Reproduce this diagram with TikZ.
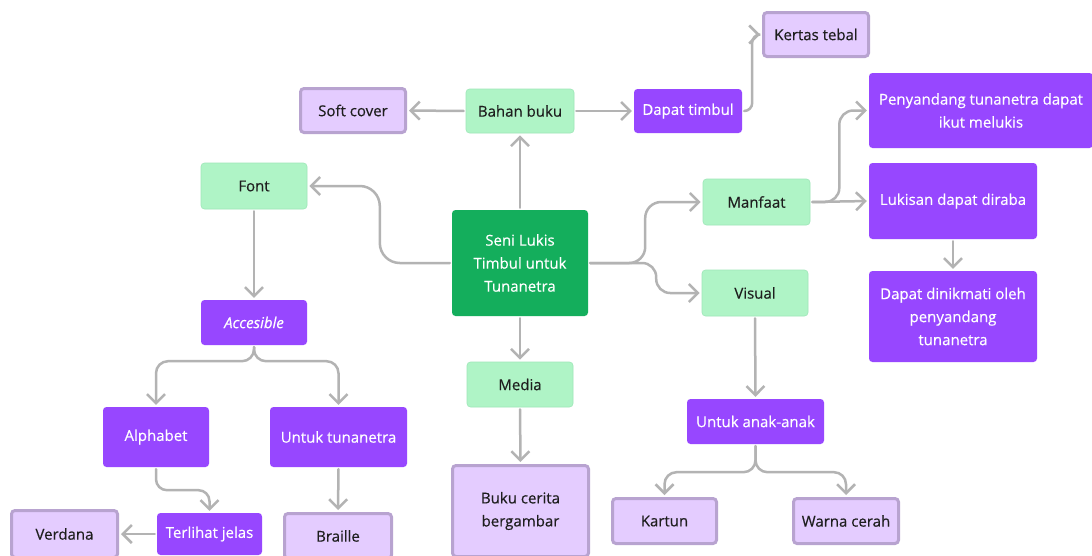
\documentclass[tikz,border=0pt]{standalone}
\usepackage{fontspec}
\setmainfont{Open Sans}[UprightFeatures={FakeBold=0.35},ItalicFeatures={FakeBold=0.35}]
\usetikzlibrary{arrows.meta}
\definecolor{lgreen}{HTML}{AFF4C6}
\definecolor{lgborder}{HTML}{9EE6B8}
\definecolor{dgreen}{HTML}{14AE5C}
\definecolor{purp}{HTML}{9747FF}
\definecolor{lpurp}{HTML}{E4CCFF}
\definecolor{lpborder}{HTML}{B8A3D0}
\definecolor{conncol}{HTML}{B3B3B3}
\definecolor{txt}{HTML}{1E1E1E}
\begin{document}
\begin{tikzpicture}[x=1pt,y=-1pt,
  box/.style={rectangle, rounded corners=3.5pt, inner sep=0pt, align=center,
    font=\fontsize{15}{23}\selectfont},
  sz/.style 2 args={minimum width=#1pt, minimum height=#2pt},
  gbox/.style={box, fill=lgreen, draw=lgborder, line width=0.6pt, text=txt},
  lpbox/.style={box, fill=lpurp, draw=lpborder, line width=3pt, text=txt},
  pbox/.style={box, fill=purp, text=white},
  dbox/.style={box, fill=dgreen, text=white},
  conn/.style={draw=conncol, line width=2.5pt, line cap=round,
    -{Straight Barb[length=9pt,width=18pt]}, shorten >=2pt, shorten <=2pt}
]
\clip (0,0) rectangle (1092,555);
\fill[white] (0,0) rectangle (1092,555);

% nodes
\node[lpbox, sz={105}{44}] (kertas) at (816,34.5) {Kertas tebal};
\node[lpbox, sz={105}{44}] (soft) at (353,110.5) {Soft cover};
\node[gbox, sz={108}{44}] (bahan) at (520,111) {Bahan buku};
\node[pbox, sz={108}{44}] (timbul) at (688,111) {Dapat timbul};
\node[pbox, sz={224}{75}] (peny) at (981,110.5) {Penyandang tunanetra dapat\\ikut melukis};
\node[gbox, sz={106}{46}] (font) at (254,186) {Font};
\node[gbox, sz={107}{46}] (manfaat) at (756.5,202) {Manfaat};
\node[pbox, sz={168}{76}] (lukisan) at (953,201) {Lukisan dapat diraba};
\node[dbox, sz={136}{106}] (seni) at (520,263) {Seni Lukis\\Timbul untuk\\Tunanetra};
\node[gbox, sz={106}{46}] (visual) at (755,293) {Visual};
\node[pbox, sz={168}{91}] (nikmat) at (953,316.5) {Dapat dinikmati oleh\\penyandang\\tunanetra};
\node[pbox, sz={106}{45}, font=\fontsize{15}{23}\selectfont\itshape] (acc) at (254,322.5) {Accesible};
\node[gbox, sz={106}{45}] (media) at (520,384.5) {Media};
\node[pbox, sz={137}{45}] (anak) at (755.5,421.5) {Untuk anak-anak};
\node[pbox, sz={106}{60}] (alpha) at (156,437) {Alphabet};
\node[pbox, sz={137}{60}] (utuna) at (338.5,437) {Untuk tunanetra};
\node[lpbox, sz={136}{91}] (buku) at (520.5,511) {Buku cerita\\bergambar};
\node[lpbox, sz={104}{45}] (kartun) at (664.5,521) {Kartun};
\node[lpbox, sz={105}{45}] (warna) at (846,521) {Warna cerah};
\node[lpbox, sz={106}{47}] (verdana) at (64.5,534) {Verdana};
\node[pbox, sz={105}{42}] (jelas) at (209.5,534) {Terlihat jelas};
\node[lpbox, sz={107}{45}] (braille) at (338,536) {Braille};

% connectors
\draw[conn] (seni.north) -- (bahan.south);
\draw[conn] (bahan.west) -- (soft.east);
\draw[conn] (bahan.east) -- (timbul.west);
\draw[conn, rounded corners=8pt] (timbul.east) -- ++(10,0) |- (kertas.west);
\draw[conn, rounded corners=20pt] (seni.west) -- ++(-72,0) |- (font.east);
\draw[conn, rounded corners=16pt] (seni.east) -- ++(57,0) |- (manfaat.west);
\draw[conn, rounded corners=14pt] (seni.east) -- ++(68,0) |- (visual.west);
\draw[conn] (manfaat.east) -- (lukisan.west);
\draw[conn, rounded corners=14pt] (manfaat.east) -- ++(29,0) |- (peny.west);
\draw[conn] (lukisan.south) -- (nikmat.north);
\draw[conn] (seni.south) -- (media.north);
\draw[conn] (media.south) -- (buku.north);
\draw[conn] (visual.south) -- (anak.north);
\draw[conn, rounded corners=12pt] (anak.south) -- ++(0,28) -| (kartun.north);
\draw[conn, rounded corners=12pt] (anak.south) -- ++(0,28) -| (warna.north);
\draw[conn] (font.south) -- (acc.north);
\draw[conn, rounded corners=12pt] (acc.south) -- ++(0,16) -| (alpha.north);
\draw[conn, rounded corners=12pt] (acc.south) -- ++(0,16) -| (utuna.north);
\draw[conn, rounded corners=11pt] (alpha.south) -- ++(0,23) -| (jelas.north);
\draw[conn] (utuna.south) -- (braille.north);
\draw[conn] (jelas.west) -- (verdana.east);
\end{tikzpicture}
\end{document}
